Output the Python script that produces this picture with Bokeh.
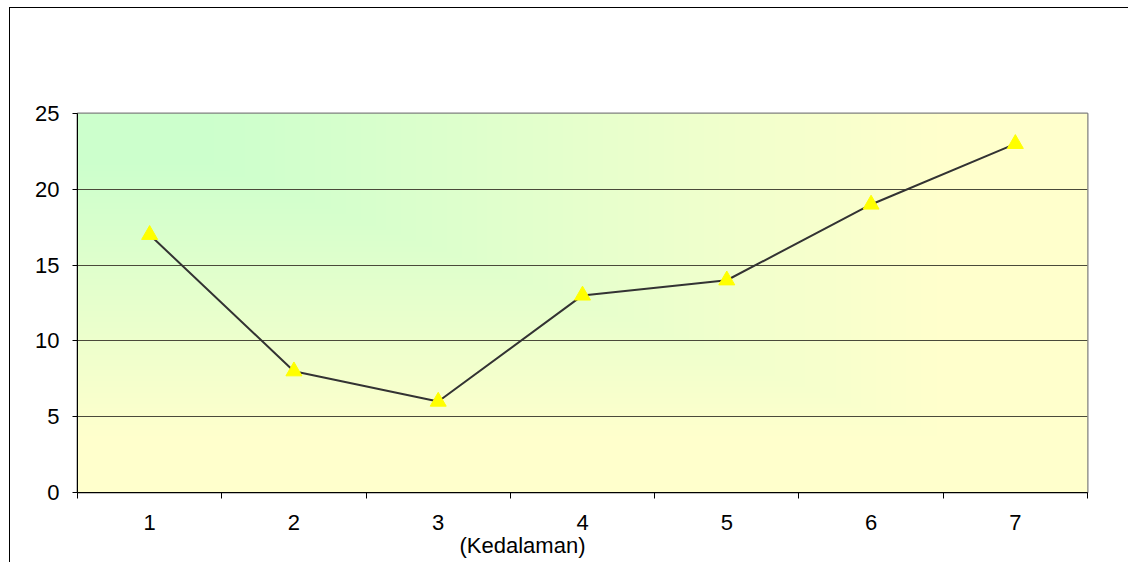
import numpy as np
from bokeh.plotting import figure
from bokeh.models import FixedTicker, Range1d, Title
from bokeh.embed import file_html
from bokeh.resources import INLINE

categories = [1, 2, 3, 4, 5, 6, 7]
values = [17, 8, 6, 13, 14, 19, 23]
y_ticks = [0, 5, 10, 15, 20, 25]
x_label = "(Kedalaman)"

FONT = "Liberation Sans"
FS = "22px"

p = figure(width=1119, height=555, output_backend="svg", toolbar_location=None,
           x_range=Range1d(0.5, 7.5), y_range=Range1d(0, 25),
           min_border_left=67, min_border_right=42, min_border_top=105, min_border_bottom=71)
p.styles = {"margin-left": "9px", "margin-top": "7px",
            "border-top": "1px solid black", "border-left": "1px solid black"}

# gradient background (green top-left -> yellow)
N = 200
gx = np.linspace(0, 1, N)[None, :]
gy = (1 - np.linspace(0, 1, N))[:, None]
t = np.clip((np.maximum(gx, gy) - 0.12) / 0.73, 0, 1)
r = (0xcc + (0xff - 0xcc) * t).astype(np.uint32)
g = np.full_like(r, 0xff)
b = np.full_like(r, 0xcc)
img = (np.uint32(255) << 24) | (b << 16) | (g << 8) | r
p.image_rgba(image=[img.astype(np.uint32)], x=0.5, y=0, dw=7, dh=25, level="image")

p.background_fill_color = "#ffffcc"
p.border_fill_color = "white"
p.outline_line_color = "#808080"
p.outline_line_width = 2

p.line(categories, values, line_color="#333333", line_width=2)
p.scatter(categories, values, marker="triangle", size=16, fill_color="#ffff00", line_color="#ffff00")

p.xgrid.visible = False
p.ygrid.ticker = FixedTicker(ticks=[5, 10, 15, 20])
p.ygrid.grid_line_color = "#4a4a3a"
p.ygrid.grid_line_width = 1

xa = p.xaxis[0]
xa.ticker = FixedTicker(ticks=categories, minor_ticks=[0.5 + i for i in range(8)])
xa.major_tick_line_color = None
xa.major_tick_out = 0
xa.major_tick_in = 0
xa.minor_tick_in = 0
xa.minor_tick_out = 6
xa.minor_tick_line_color = "black"
xa.axis_line_color = "black"
xa.major_label_text_font = FONT
xa.major_label_text_font_size = FS
xa.major_label_text_color = "black"
xa.major_label_standoff = 16

ya = p.yaxis[0]
ya.ticker = FixedTicker(ticks=y_ticks)
ya.minor_tick_line_color = None
ya.major_tick_in = 0
ya.major_tick_out = 5
ya.major_tick_line_color = "black"
ya.axis_line_color = "black"
ya.major_label_text_font = FONT
ya.major_label_text_font_size = FS
ya.major_label_text_color = "black"
ya.major_label_standoff = 13

ttl = Title(text=x_label, align="left", offset=382, text_font=FONT, text_font_size=FS,
            text_font_style="normal", text_color="black", standoff=-3)
p.add_layout(ttl, "below")

open("out.html", "w").write(file_html(p, INLINE))
